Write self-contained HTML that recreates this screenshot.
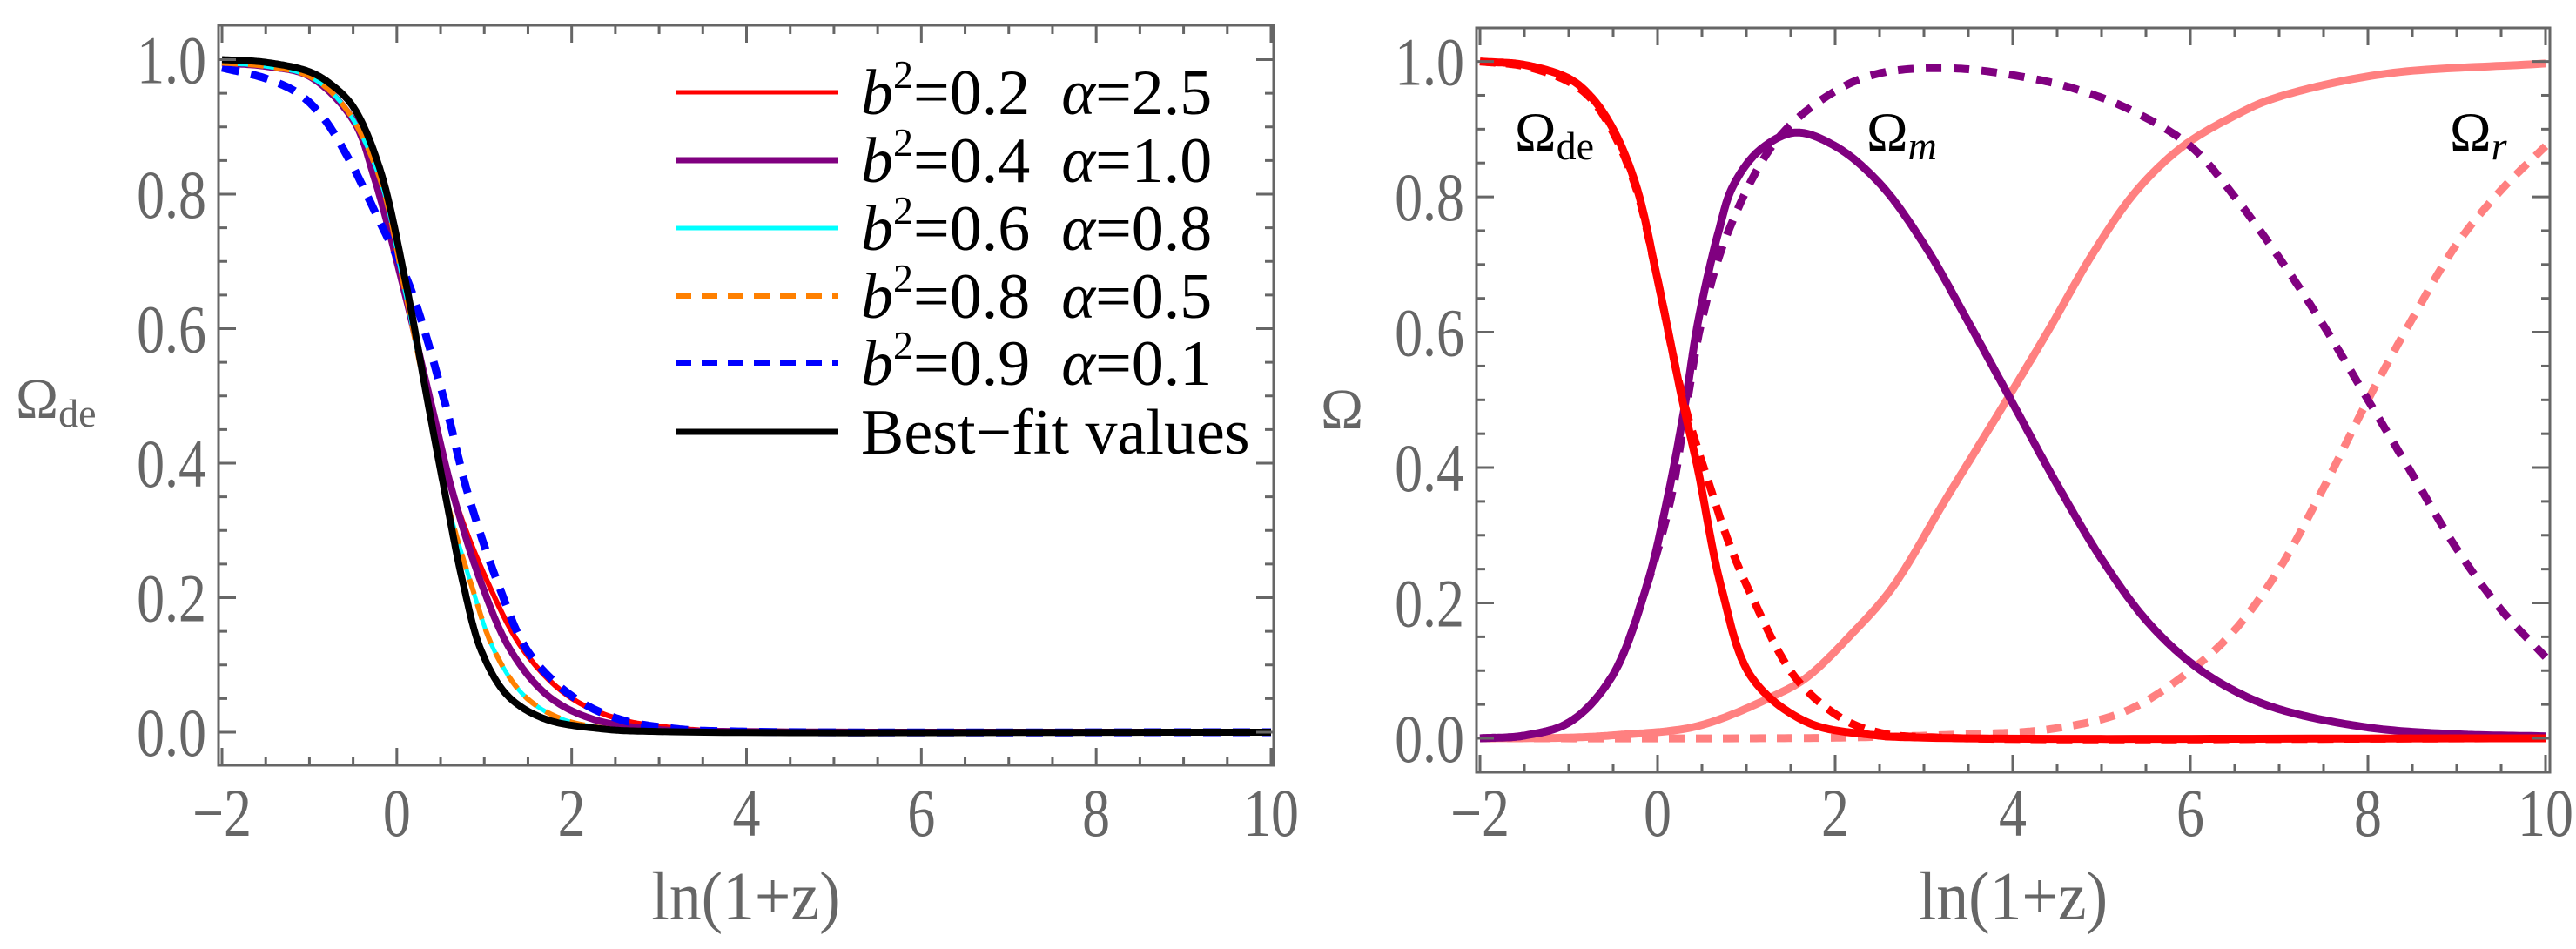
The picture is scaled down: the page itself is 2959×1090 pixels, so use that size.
<!DOCTYPE html>
<html><head><meta charset="utf-8"><style>
html,body{margin:0;padding:0;background:#fff;}
svg{display:block;}
svg text{font-family:"Liberation Serif","Times New Roman","DejaVu Serif",serif;}
</style></head><body>
<svg id="fig" width="2959" height="1090" viewBox="0 0 2959 1090" xmlns="http://www.w3.org/2000/svg">
<g id="left"></g>
<g id="right"></g>
</svg>
<script>
// ---------- Left panel data ----------
const xTicks = [-2, 0, 2, 4, 6, 8, 10];
const yTicks = [0.0, 0.2, 0.4, 0.6, 0.8, 1.0];
const yTickLabels = ["0.0", "0.2", "0.4", "0.6", "0.8", "1.0"];
const xBlack = [-2, -1.5, -1, -0.75, -0.5, -0.2, 0.1, 0.355, 0.55, 0.76, 0.97, 1.27, 1.69, 2.34, 3, 10];
const yBlack = [1.0, 0.996, 0.982, 0.963, 0.93, 0.84, 0.67, 0.49, 0.356, 0.22, 0.12, 0.054, 0.02, 0.005, 0.001, 0];
const xBlue = [-2, -1.5, -1.13, -0.85, -0.54, -0.2, 0.145, 0.55, 0.81, 1.16, 1.5, 2.0, 2.53, 3.2, 4, 10];
const yBlue = [0.988, 0.972, 0.95, 0.915, 0.85, 0.76, 0.664, 0.49, 0.356, 0.22, 0.12, 0.054, 0.02, 0.005, 0.001, 0];
const xRed = [-2, -1.5, -1, -0.5, -0.26, 0.07, 0.39, 0.64, 1.05, 1.46, 1.96, 2.53, 3.3, 4, 10];
const yRed = [0.995, 0.99, 0.975, 0.91, 0.825, 0.664, 0.49, 0.356, 0.22, 0.12, 0.054, 0.02, 0.005, 0.001, 0];
const xPurple = [-2, -1.5, -1, -0.5, -0.26, 0.07, 0.39, 0.64, 0.97, 1.31, 1.73, 2.23, 3, 4, 10];
const yPurple = [0.995, 0.99, 0.975, 0.91, 0.825, 0.664, 0.49, 0.356, 0.22, 0.12, 0.054, 0.02, 0.004, 0.001, 0];
const xCyan = [-2, -1.5, -1, -0.6, -0.2, 0.08, 0.35, 0.55, 0.85, 1.12, 1.46, 1.88, 2.5, 3, 10];
const yCyan = [0.995, 0.99, 0.975, 0.93, 0.825, 0.664, 0.49, 0.356, 0.22, 0.12, 0.054, 0.02, 0.004, 0.001, 0];
const xOrange = [-2, -1.5, -1, -0.6, -0.2, 0.08, 0.35, 0.55, 0.85, 1.12, 1.46, 1.88, 2.5, 3, 10];
const yOrange = [0.995, 0.99, 0.975, 0.93, 0.825, 0.664, 0.49, 0.356, 0.22, 0.12, 0.054, 0.02, 0.004, 0.001, 0];
const legendLabels = [["0.2","2.5"],["0.4","1.0"],["0.6","0.8"],["0.8","0.5"],["0.9","0.1"]];
// ---------- Right panel data ----------
const xDe = [-2, -1.5, -1, -0.75, -0.5, -0.24, -0.01, 0.29, 0.45, 0.72, 1.06, 1.68, 2.42, 3, 10];
const yDe = [1.0, 0.995, 0.975, 0.948, 0.9, 0.816, 0.684, 0.493, 0.40, 0.222, 0.09, 0.024, 0.005, 0.001, 0];
const xDeD = [-2, -1.5, -1, -0.75, -0.5, -0.24, -0.01, 0.29, 0.62, 0.8, 1.06, 1.55, 2.07, 2.51, 3.2, 10];
const yDeD = [1.0, 0.993, 0.97, 0.945, 0.895, 0.812, 0.684, 0.50, 0.36, 0.29, 0.21, 0.09, 0.03, 0.008, 0.001, 0];
const xM = [-2, -1.5, -0.99, -0.52, -0.13, 0.11, 0.30, 0.46, 0.69, 0.85, 1.15, 1.55, 2.0, 2.5, 3.0, 3.5, 4.0, 4.5, 5.0, 5.5, 6.0, 6.5, 7.0, 8.0, 9.0, 10];
const yM = [0, 0.004, 0.024, 0.09, 0.222, 0.354, 0.486, 0.618, 0.75, 0.816, 0.869, 0.895, 0.875, 0.82, 0.73, 0.615, 0.495, 0.375, 0.265, 0.175, 0.112, 0.07, 0.043, 0.016, 0.006, 0.003];
const xMD = [-2, -1.5, -0.99, -0.52, -0.13, 0.15, 0.32, 0.50, 0.8, 1.33, 1.9, 2.45, 3.3, 4.25, 4.74, 5.3, 6.0, 6.5, 7.0, 7.5, 8.0, 8.5, 9.0, 9.5, 10];
const yMD = [0, 0.004, 0.024, 0.09, 0.222, 0.354, 0.486, 0.618, 0.75, 0.882, 0.948, 0.981, 0.99, 0.974, 0.958, 0.93, 0.875, 0.80, 0.71, 0.61, 0.50, 0.39, 0.28, 0.19, 0.12];
const xR = [-2, -1, -0.44, 0.45, 1.33, 1.68, 2.2, 2.64, 3.25, 3.9, 4.39, 4.92, 5.4, 5.92, 6.5, 6.93, 8.15, 10];
const yR = [0, 0.001, 0.005, 0.018, 0.064, 0.09, 0.156, 0.222, 0.354, 0.493, 0.60, 0.72, 0.81, 0.875, 0.92, 0.945, 0.981, 0.997];
const xRD = [-2, 1, 2.06, 3.46, 4.39, 5.27, 6.0, 6.5, 7.0, 7.5, 8.0, 8.5, 9.0, 9.5, 10];
const yRD = [0, 0, 0.001, 0.006, 0.013, 0.04, 0.10, 0.16, 0.25, 0.37, 0.50, 0.62, 0.73, 0.81, 0.875];

const NS = "http://www.w3.org/2000/svg";
function mk(tag, attrs, parent){
  const e = document.createElementNS(NS, tag);
  for (const k in attrs) e.setAttribute(k, attrs[k]);
  parent.appendChild(e);
  return e;
}
function makeAxes(x0, x1, yTop, yBot){
  return {
    sx: v => x0 + (v + 2) / 12 * (x1 - x0),
    sy: v => yBot + (yTop - yBot) * v
  };
}
// centripetal Catmull-Rom through the data points in pixel space
function smoothPath(xs, ys, ax){
  const p = xs.map((x, i) => [ax.sx(x), ax.sy(ys[i])]);
  const n = p.length;
  const ext = [[2*p[0][0]-p[1][0], 2*p[0][1]-p[1][1]], ...p, [2*p[n-1][0]-p[n-2][0], 2*p[n-1][1]-p[n-2][1]]];
  let path = "M" + p[0][0].toFixed(1) + "," + p[0][1].toFixed(1);
  const dist = (a, b) => Math.max(1e-3, Math.pow(Math.hypot(b[0]-a[0], b[1]-a[1]), 0.5));
  for (let i = 1; i < ext.length - 2; i++){
    const P0 = ext[i-1], P1 = ext[i], P2 = ext[i+1], P3 = ext[i+2];
    const t0 = 0, t1 = t0 + dist(P0, P1), t2 = t1 + dist(P1, P2), t3 = t2 + dist(P2, P3);
    const steps = 24;
    for (let s = 1; s <= steps; s++){
      const t = t1 + (t2 - t1) * s / steps;
      const pt = [0, 1].map(k => {
        const A1 = (t1-t)/(t1-t0)*P0[k] + (t-t0)/(t1-t0)*P1[k];
        const A2 = (t2-t)/(t2-t1)*P1[k] + (t-t1)/(t2-t1)*P2[k];
        const A3 = (t3-t)/(t3-t2)*P2[k] + (t-t2)/(t3-t2)*P3[k];
        const B1 = (t2-t)/(t2-t0)*A1 + (t-t0)/(t2-t0)*A2;
        const B2 = (t3-t)/(t3-t1)*A2 + (t-t1)/(t3-t1)*A3;
        return (t2-t)/(t2-t1)*B1 + (t-t1)/(t2-t1)*B2;
      });
      path += " L" + pt[0].toFixed(1) + "," + pt[1].toFixed(1);
    }
  }
  return path;
}
function frame(g, fx0, fx1, fy0, fy1, ax){
  const f = mk("rect", {x: fx0, y: fy0, width: fx1 - fx0, height: fy1 - fy0, fill: "none", stroke: "#666", "stroke-width": 3}, g);
  
  
  for (let v = -2; v <= 10.001; v += 0.5){
    const major = Math.abs(v / 2 - Math.round(v / 2)) < 1e-6;
    const L = major ? 20 : 10;
    const X = ax.sx(v);
    mk("line", {x1: X, x2: X, y1: fy1, y2: fy1 - L, stroke: "#666", "stroke-width": 3}, g);
    mk("line", {x1: X, x2: X, y1: fy0, y2: fy0 + L, stroke: "#666", "stroke-width": 3}, g);
  }
  for (let v = 0; v <= 1.0001; v += 0.05){
    const major = Math.abs(v / 0.2 - Math.round(v / 0.2)) < 1e-6;
    const L = major ? 20 : 10;
    const Y = ax.sy(v);
    mk("line", {x1: fx0, x2: fx0 + L, y1: Y, y2: Y, stroke: "#666", "stroke-width": 3}, g);
    mk("line", {x1: fx1, x2: fx1 - L, y1: Y, y2: Y, stroke: "#666", "stroke-width": 3}, g);
  }
  xTicks.forEach(v => {
    const t = mk("text", {transform: "translate(" + ax.sx(v) + ",960) scale(0.82,1)", "text-anchor": "middle", "font-size": 78, fill: "#666", "font-family": "Liberation Serif, serif"}, g);
    t.textContent = v < 0 ? "\u2212" + Math.abs(v) : String(v);
    
    
  });
  yTicks.forEach((v, i) => {
    const t = mk("text", {transform: "translate(" + (fx0 - 14) + "," + (ax.sy(v) + 27) + ") scale(0.82,1)", "text-anchor": "end", "font-size": 78, fill: "#666", "font-family": "Liberation Serif, serif"}, g);
    t.textContent = yTickLabels[i];
    
    
  });
  const xl = mk("text", {transform: "translate(" + ((fx0 + fx1) / 2) + ",1056) scale(0.92,1)", "text-anchor": "middle", "font-size": 80, fill: "#666", "font-family": "Liberation Serif, serif"}, g);
  xl.textContent = "ln(1+z)";
  
  
}
function curve(g, xs, ys, ax, color, w, dash, name){
  const a = {d: smoothPath(xs, ys, ax), fill: "none", stroke: color, "stroke-width": w, "stroke-linejoin": "round"};
  if (dash) a["stroke-dasharray"] = dash;
  const p = mk("path", a, g);
  
  
}

// ---- Left panel ----
const L = document.getElementById("left");
const axL = makeAxes(255, 1460, 68.5, 841);
const clipL = mk("clipPath", {id: "cl"}, L);
mk("rect", {x: 251, y: 29, width: 1212, height: 850}, clipL);
const gl = mk("g", {"clip-path": "url(#cl)"}, L);
curve(gl, xRed, yRed, axL, "#ff0000", 6, null, "series-red");
curve(gl, xPurple, yPurple, axL, "#800080", 8, null, "series-purple");
curve(gl, xBlue, yBlue, axL, "#0000ff", 9, "20 14", "series-blue");
curve(gl, xCyan, yCyan, axL, "#00ffff", 5, null, "series-cyan");
curve(gl, xOrange, yOrange, axL, "#ff8000", 6, "18 12", "series-orange");
curve(gl, xBlack, yBlack, axL, "#000000", 8, null, "series-best-fit");
frame(L, 251, 1463, 29, 879, axL);
const ylL = mk("text", {x: 18, y: 480, "font-size": 66, fill: "#666"}, L);
ylL.innerHTML = 'Ω<tspan font-size="46" dy="10">de</tspan>';


// legend
const legColors = ["#ff0000", "#800080", "#00ffff", "#ff8000", "#0000ff", "#000000"];
const legW = [5, 7, 5, 6, 6, 7];
const legDash = [null, null, null, "18 12", "18 12", null];
const legY = [106, 184, 262, 340, 417, 496];
const leg = mk("g", {}, L);


for (let i = 0; i < 6; i++){
  const a = {x1: 776, x2: 963, y1: legY[i], y2: legY[i], stroke: legColors[i], "stroke-width": legW[i]};
  if (legDash[i]) a["stroke-dasharray"] = legDash[i];
  const ln = mk("line", a, leg);
  
  
  const t = mk("text", {x: 989, y: legY[i] + 25, "font-size": 74, fill: "#000"}, leg);
  if (i < 5){
    t.innerHTML = '<tspan font-style="italic">b</tspan><tspan font-size="46" dy="-30">2</tspan><tspan dy="30">=' + legendLabels[i][0] + '</tspan><tspan font-style="italic" dx="36">α</tspan>=' + legendLabels[i][1];
  } else {
    t.textContent = "Best\u2212fit values";
  }
  
  
}

// ---- Right panel ----
const R = document.getElementById("right");
const axR = makeAxes(1700, 2924, 70.6, 848);
const clipR = mk("clipPath", {id: "cr"}, R);
mk("rect", {x: 1696, y: 32, width: 1233, height: 855}, clipR);
const gr = mk("g", {"clip-path": "url(#cr)"}, R);
curve(gr, xRD, yRD, axR, "#ff8080", 9, "18 13", "omega-r-dashed");
curve(gr, xR, yR, axR, "#ff8080", 9, null, "omega-r");
curve(gr, xMD, yMD, axR, "#800080", 9, "18 14", "omega-m-dashed");
curve(gr, xM, yM, axR, "#800080", 9, null, "omega-m");
curve(gr, xDeD, yDeD, axR, "#ff0000", 9, "18 12", "omega-de-dashed");
curve(gr, xDe, yDe, axR, "#ff0000", 9, null, "omega-de");
frame(R, 1696, 2929, 32, 887, axR);
const ylR = mk("text", {x: 1517, y: 492, "font-size": 66, fill: "#666"}, R);
ylR.textContent = "Ω";


const lab = [[1740, 'Ω<tspan font-size="46" dy="10">de</tspan>', 'label-omega-de'],
             [2144, 'Ω<tspan font-size="46" dy="10" font-style="italic">m</tspan>', 'label-omega-m'],
             [2814, 'Ω<tspan font-size="46" dy="10" font-style="italic">r</tspan>', 'label-omega-r']];
lab.forEach(l => {
  const t = mk("text", {x: l[0], y: 173, "font-size": 64, fill: "#000"}, R);
  t.innerHTML = l[1];
  
  
});
</script>
</body></html>
